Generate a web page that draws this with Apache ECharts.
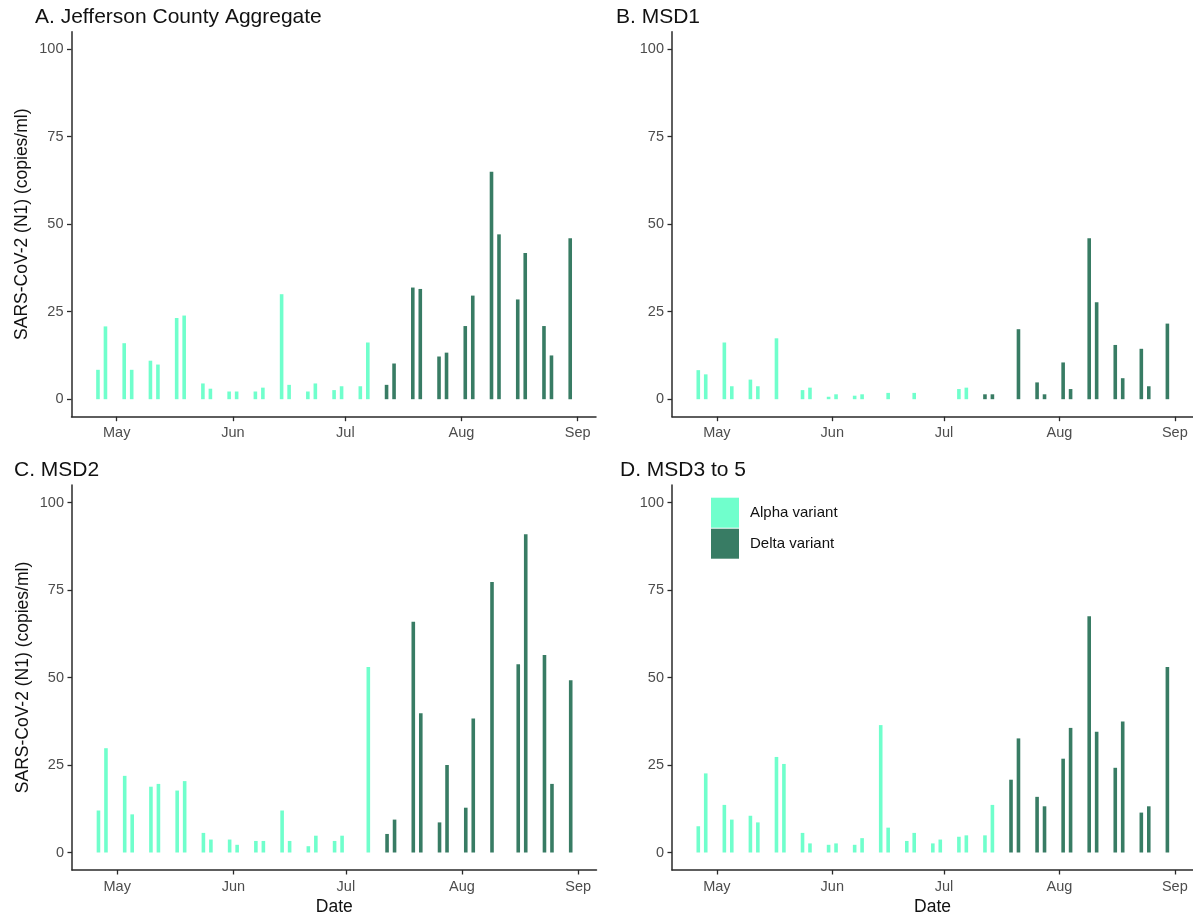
<!DOCTYPE html>
<html>
<head>
<meta charset="utf-8">
<script src="https://cdn.jsdelivr.net/npm/echarts@6/dist/echarts.min.js"></script>
<style>
  html, body { margin: 0; padding: 0; background: #fff; }
  #chart { width: 1193px; height: 919px; }
</style>
</head>
<body>
<div id="chart"></div>
<script>
// ---------------- DATA ----------------
const sampleDates = [
  '2021-04-26','2021-04-28','2021-05-03','2021-05-05','2021-05-10','2021-05-12',
  '2021-05-17','2021-05-19','2021-05-24','2021-05-26','2021-05-31','2021-06-02',
  '2021-06-07','2021-06-09','2021-06-14','2021-06-16','2021-06-21','2021-06-23',
  '2021-06-28','2021-06-30','2021-07-05','2021-07-07','2021-07-12','2021-07-14',
  '2021-07-19','2021-07-21','2021-07-26','2021-07-28','2021-08-02','2021-08-04',
  '2021-08-09','2021-08-11','2021-08-16','2021-08-18','2021-08-23','2021-08-25',
  '2021-08-30'
];
// SARS-CoV-2 (N1) copies/ml, aligned with sampleDates (null = no sample)
const jeffersonValues = [8.4, 20.8, 16.0, 8.4, 11.0, 9.9, 23.2, 23.9, 4.5, 3.0, 2.2, 2.2,
  2.2, 3.3, 30.0, 4.1, 2.2, 4.5, 2.6, 3.7, 3.7, 16.2, 4.1, 10.2,
  31.9, 31.5, 12.2, 13.3, 20.9, 29.6, 65.0, 47.1, 28.5, 41.8, 20.9, 12.5, 46.0];
const msd1Values = [8.3, 7.1, 16.2, 3.7, 5.6, 3.7, 17.4, null, 2.6, 3.3, 0.7, 1.4,
  1.0, 1.4, null, 1.8, null, 1.8, null, null, 2.9, 3.3, 1.4, 1.4,
  null, 20.0, 4.8, 1.4, 10.5, 2.9, 46.0, 27.7, 15.5, 6.0, 14.4, 3.7, 21.6];
const msd2Values = [12.0, 29.8, 21.9, 10.9, 18.8, 19.6, 17.7, 20.4, 5.6, 3.7, 3.7, 2.2,
  3.3, 3.3, 12.0, 3.3, 1.8, 4.8, 3.3, 4.8, null, 53.0, 5.3, 9.4,
  65.9, 39.8, 8.6, 25.0, 12.8, 38.3, 77.3, null, 53.8, 90.9, 56.4, 19.6, 49.2];
const msd3to5Values = [7.5, 22.6, 13.6, 9.4, 10.5, 8.6, 27.3, 25.3, 5.6, 2.6, 2.2, 2.6,
  2.2, 4.1, 36.4, 7.1, 3.3, 5.6, 2.6, 3.7, 4.5, 4.9, 4.9, 13.6,
  20.8, 32.6, 15.9, 13.2, 26.8, 35.6, 67.5, 34.5, 24.2, 37.4, 11.4, 13.2, 53.0];
// first sample date attributed to the Delta variant in each panel
const firstDeltaDate = ['2021-07-12', '2021-07-12', '2021-07-12', '2021-07-19'];
const panelTitles = ['A. Jefferson County Aggregate', 'B. MSD1', 'C. MSD2', 'D. MSD3 to 5'];
const variantNames = ['Alpha variant', 'Delta variant'];
const monthTickDates = ['2021-05-01', '2021-06-01', '2021-07-01', '2021-08-01', '2021-09-01'];
const monthTickLabels = ['May', 'Jun', 'Jul', 'Aug', 'Sep'];
const yTickValues = [0, 25, 50, 75, 100];
const yAxisTitle = 'SARS-CoV-2 (N1) (copies/ml)';
const xAxisTitle = 'Date';

// ---------------- STYLE / LAYOUT ----------------
const ALPHA = '#70FFCC';
const DELTA = '#387C64';
const FONT = 'Liberation Sans, Arial, Helvetica, sans-serif';
const DAY = 86400000;
function ts(s) { const p = s.split('-').map(Number); return Date.UTC(p[0], p[1] - 1, p[2]); }
const xMin = ts('2021-04-19') - 0.06 * DAY;
const xMax = ts('2021-09-05') + 0.88 * DAY;

const panelValues = [jeffersonValues, msd1Values, msd2Values, msd3to5Values];
const grids = [
  { left: 71.5, top: 31.7, width: 524.5, height: 385 },
  { left: 672, top: 31.7, width: 524.5, height: 385 },
  { left: 72, top: 485, width: 524.5, height: 385 },
  { left: 672, top: 485, width: 524.5, height: 385 }
];
const titlePos = [[35, 7], [616, 7], [14, 460], [620, 460]];

const monthTs = monthTickDates.map(ts);
const AXIS_COLOR = '#2a2a2a';

const option = {
  animation: false,
  backgroundColor: '#ffffff',
  textStyle: { fontFamily: FONT },
  title: panelTitles.map((t, i) => ({
    text: t, left: titlePos[i][0], top: titlePos[i][1], padding: 0,
    textStyle: { fontFamily: FONT, fontSize: 21, fontWeight: 'normal', color: '#111' }
  })),
  legend: {
    orient: 'vertical', left: 711, top: 497.7, padding: 0,
    itemWidth: 28, itemHeight: 30, itemGap: 1,
    data: variantNames.map(n => ({ name: n, icon: 'rect' })),
    textStyle: { fontFamily: FONT, fontSize: 15, color: '#111', padding: [0, 0, 0, 6] },
    selectedMode: false
  },
  grid: grids.map(g => Object.assign({ containLabel: false }, g)),
  xAxis: grids.map((g, i) => ({
    type: 'value', gridIndex: i, min: xMin, max: xMax,
    name: i >= 2 ? xAxisTitle : '', nameLocation: 'middle', nameGap: 28,
    nameTextStyle: { fontFamily: FONT, fontSize: 17.5, color: '#111' },
    axisLine: { show: true, onZero: false, lineStyle: { color: AXIS_COLOR, width: 1.5 } },
    axisTick: { show: true, length: 4.5, lineStyle: { color: AXIS_COLOR, width: 1.3 }, customValues: monthTs },
    axisLabel: {
      show: true, margin: 9, fontFamily: FONT, fontSize: 14.5, color: '#4d4d4d',
      customValues: monthTs,
      formatter: function (v) { const k = monthTs.indexOf(v); return k >= 0 ? monthTickLabels[k] : ''; }
    },
    splitLine: { show: false }
  })),
  yAxis: grids.map((g, i) => ({
    type: 'value', gridIndex: i, min: -5, max: 105,
    name: (i === 0 || i === 2) ? yAxisTitle : '', nameLocation: 'middle', nameGap: 40,
    nameTextStyle: { fontFamily: FONT, fontSize: 17.5, color: '#111' },
    axisLine: { show: true, onZero: false, lineStyle: { color: AXIS_COLOR, width: 1.5 } },
    axisTick: { show: true, length: 4.5, lineStyle: { color: AXIS_COLOR, width: 1.3 }, customValues: yTickValues },
    axisLabel: { show: true, margin: 8, fontFamily: FONT, fontSize: 14.5, color: '#4d4d4d', customValues: yTickValues },
    splitLine: { show: false }
  })),
  series: []
};

panelValues.forEach((vals, i) => {
  const cut = ts(firstDeltaDate[i]);
  const alpha = [], delta = [];
  sampleDates.forEach((d, k) => {
    if (vals[k] == null) return;
    const t = ts(d);
    (t < cut ? alpha : delta).push([t, vals[k]]);
  });
  [alpha, delta].forEach((data, v) => {
    option.series.push({
      type: 'bar', name: variantNames[v], xAxisIndex: i, yAxisIndex: i,
      data: data, barWidth: 3.6, barGap: '-100%', silent: true,
      itemStyle: { color: v === 0 ? ALPHA : DELTA }
    });
  });
});

const chart = echarts.init(document.getElementById('chart'), null, { renderer: 'canvas' });
chart.setOption(option);
</script>
</body>
</html>
